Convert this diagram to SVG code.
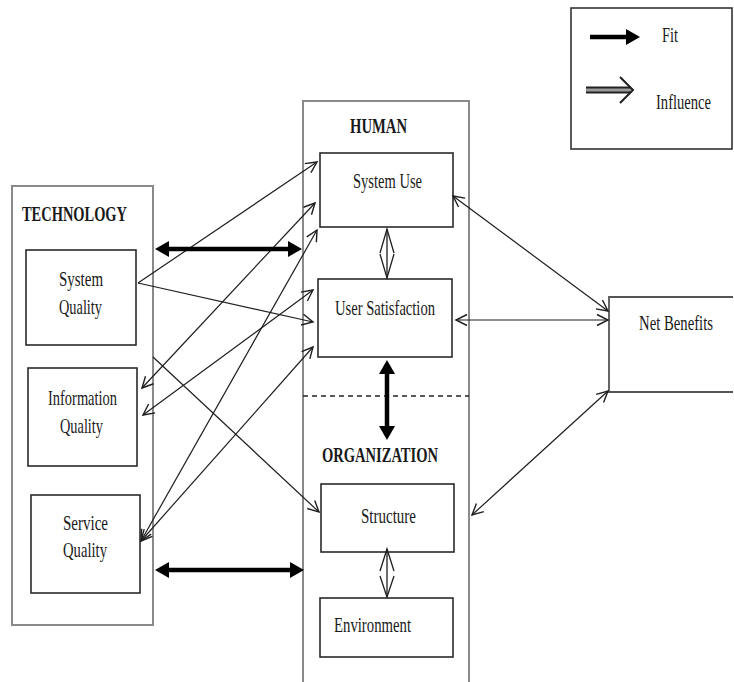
<svg xmlns="http://www.w3.org/2000/svg" width="734" height="682" viewBox="0 0 734 682">
<style>
.bg{fill:#fff}
.outer{fill:none;stroke:#8a8a8a;stroke-width:2}
.box{fill:#fff;stroke:#2a2a2a;stroke-width:1.6}
.t{font-family:"Liberation Serif","Times New Roman",serif;font-size:21px;fill:#1a1a1a}
.b{font-weight:bold}
.thin{fill:none;stroke:#1e1e1e;stroke-width:1.2}
.fit{fill:none;stroke:#000;stroke-width:4.5}
.dbl{fill:none;stroke:#1e1e1e;stroke-width:1.3}
</style>
<defs>
<marker id="open" markerUnits="userSpaceOnUse" viewBox="-13 -8 15 16" markerWidth="15" markerHeight="16" refX="0" refY="0" orient="auto-start-reverse">
<path d="M-11,-5.5 L0,0 L-11,5.5" fill="none" stroke="#1e1e1e" stroke-width="1.4"/>
</marker>
<marker id="fitm" markerUnits="userSpaceOnUse" viewBox="-4 -9 18 18" markerWidth="18" markerHeight="18" refX="0" refY="0" orient="auto-start-reverse">
<path d="M-2,-8 L12,0 L-2,8 Z" fill="#000"/>
</marker>
</defs>
<rect class="bg" x="0" y="0" width="734" height="682"/>

<g id="legend">
<rect x="571" y="8" width="161" height="141" fill="none" stroke="#333" stroke-width="1.6"/>
<line x1="590" y1="37" x2="628" y2="37" class="fit" marker-end="url(#fitm)"/>
<text class="t" x="662" y="42" textLength="16" lengthAdjust="spacingAndGlyphs">Fit</text>
<line x1="586" y1="90" x2="631" y2="90" stroke="#222" stroke-width="7"/>
<line x1="586" y1="90" x2="631" y2="90" stroke="#9a9a9a" stroke-width="3"/>
<path d="M620,77 L633,90 L620,103" fill="none" stroke="#1e1e1e" stroke-width="2"/>
<text class="t" x="656" y="109" textLength="55" lengthAdjust="spacingAndGlyphs">Influence</text>
</g>

<g id="technology">
<rect class="outer" x="12" y="186" width="141" height="439"/>
<text class="t b" x="22" y="221" textLength="105" lengthAdjust="spacingAndGlyphs">TECHNOLOGY</text>
</g>
<g id="system-quality">
<rect class="box" x="26" y="250" width="110" height="95"/>
<text class="t" x="59" y="286" textLength="44" lengthAdjust="spacingAndGlyphs">System</text>
<text class="t" x="59" y="314" textLength="43" lengthAdjust="spacingAndGlyphs">Quality</text>
</g>
<g id="information-quality">
<rect class="box" x="28" y="368" width="109" height="98"/>
<text class="t" x="48" y="405" textLength="69" lengthAdjust="spacingAndGlyphs">Information</text>
<text class="t" x="60" y="433" textLength="43" lengthAdjust="spacingAndGlyphs">Quality</text>
</g>
<g id="service-quality">
<rect class="box" x="31" y="495" width="109" height="98"/>
<text class="t" x="63" y="530" textLength="45" lengthAdjust="spacingAndGlyphs">Service</text>
<text class="t" x="63" y="557" textLength="44" lengthAdjust="spacingAndGlyphs">Quality</text>
</g>

<g id="human-organization">
<path class="outer" d="M303,690 L303,101 L469,101 L469,690"/>
<line x1="303" y1="396" x2="469" y2="396" stroke="#222" stroke-width="1.4" stroke-dasharray="5,4"/>
<text class="t b" x="350" y="133" textLength="57" lengthAdjust="spacingAndGlyphs">HUMAN</text>
<text class="t b" x="322" y="462" textLength="116" lengthAdjust="spacingAndGlyphs">ORGANIZATION</text>
</g>
<g id="system-use">
<rect class="box" x="320" y="153" width="133" height="74"/>
<text class="t" x="353" y="188" textLength="69" lengthAdjust="spacingAndGlyphs">System Use</text>
</g>
<g id="user-satisfaction">
<rect class="box" x="318" y="279" width="134" height="78"/>
<text class="t" x="335" y="315" textLength="100" lengthAdjust="spacingAndGlyphs">User Satisfaction</text>
</g>
<g id="structure">
<rect class="box" x="321" y="484" width="133" height="68"/>
<text class="t" x="361" y="523" textLength="55" lengthAdjust="spacingAndGlyphs">Structure</text>
</g>
<g id="environment">
<rect class="box" x="320" y="598" width="133" height="59"/>
<text class="t" x="334" y="632" textLength="77" lengthAdjust="spacingAndGlyphs">Environment</text>
</g>
<g id="net-benefits">
<path d="M733,297 L609,297 L609,392 L733,392" fill="#fff" stroke="#555" stroke-width="1.8"/>
<text class="t" x="639" y="330" textLength="74" lengthAdjust="spacingAndGlyphs">Net Benefits</text>
</g>

<g id="connectors">
<line class="thin" x1="138" y1="283" x2="317" y2="162" marker-end="url(#open)"/>
<line class="thin" x1="138" y1="283" x2="313" y2="322" marker-end="url(#open)"/>
<line class="thin" x1="142" y1="388" x2="315" y2="203" marker-start="url(#open)" marker-end="url(#open)"/>
<line class="thin" x1="143" y1="415" x2="313" y2="290" marker-start="url(#open)" marker-end="url(#open)"/>
<line class="thin" x1="141" y1="541" x2="317" y2="230" marker-start="url(#open)" marker-end="url(#open)"/>
<line class="thin" x1="141" y1="541" x2="313" y2="347" marker-start="url(#open)" marker-end="url(#open)"/>
<line class="thin" x1="153" y1="357" x2="319" y2="512" marker-end="url(#open)"/>
<line class="thin" x1="453" y1="196" x2="608" y2="311" marker-start="url(#open)" marker-end="url(#open)"/>
<line class="thin" x1="456" y1="320" x2="608" y2="320" marker-start="url(#open)" marker-end="url(#open)"/>
<line class="thin" x1="608" y1="391" x2="472" y2="515" marker-start="url(#open)" marker-end="url(#open)"/>
<line class="fit" x1="167" y1="249" x2="290" y2="249" marker-start="url(#fitm)" marker-end="url(#fitm)"/>
<line class="fit" x1="167" y1="570" x2="292" y2="570" marker-start="url(#fitm)" marker-end="url(#fitm)"/>
<line class="fit" x1="387" y1="372" x2="387" y2="428" marker-start="url(#fitm)" marker-end="url(#fitm)"/>
<line class="dbl" x1="387" y1="229" x2="387" y2="278"/>
<path class="dbl" d="M380,253 L387,229 L394,253 M380,254 L387,278 L394,254"/>
<line class="dbl" x1="387" y1="549" x2="387" y2="597"/>
<path class="dbl" d="M380,571 L387,549 L394,571 M380,576 L387,597 L394,576"/>
</g>
</svg>
